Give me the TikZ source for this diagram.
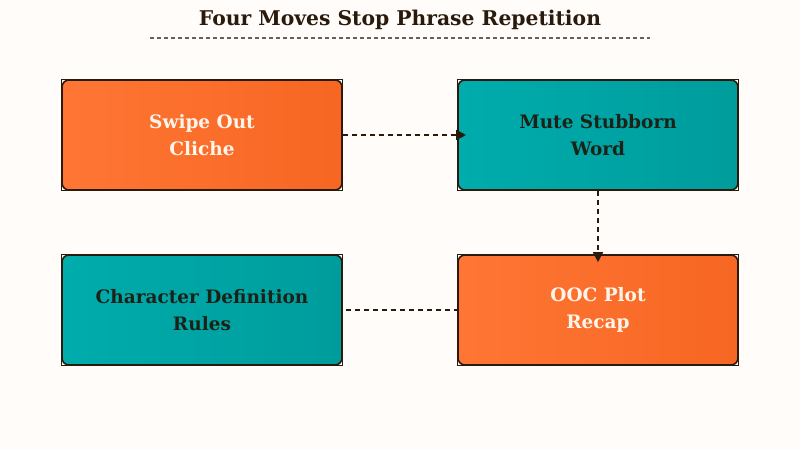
\documentclass[tikz,border=0pt]{standalone}
\usepackage{fontspec}
\setmainfont{DejaVu Serif}
\usetikzlibrary{arrows.meta}
\definecolor{bg}{HTML}{FFFCFA}
\definecolor{dark}{HTML}{2A1A0C}
\definecolor{orA}{HTML}{FF7634}
\definecolor{orB}{HTML}{F76623}
\definecolor{teA}{HTML}{00ACAC}
\definecolor{teB}{HTML}{009C9C}
\definecolor{wtxt}{HTML}{FFF5EA}
\definecolor{dtxt}{HTML}{1C2218}
\tikzset{
  card/.style={minimum width=280pt, minimum height=110pt, rounded corners=7pt,
    draw=dark, line width=1.6pt, align=center, font=\fontsize{18.5}{26.5}\selectfont\bfseries,
    shading angle=135},
  orcard/.style={card, left color=orA, right color=orB, text=wtxt},
  tecard/.style={card, left color=teA, right color=teB, text=dtxt},
  frame/.style={draw=dark, line width=1.3pt},
  conn/.style={draw=dark, line width=1.6pt, dash pattern=on 5pt off 4pt},
  tip/.style={-{Triangle[length=10pt,width=10pt]}}
}
\begin{document}
\begin{tikzpicture}[x=1pt,y=-1pt]
\fill[bg] (0,0) rectangle (800,450);
\useasboundingbox (0,0) rectangle (800,450);
\node[text=dark, font=\fontsize{20.3}{27}\selectfont\bfseries] (title) at (400,20) {Four Moves Stop Phrase Repetition};
\draw[draw=dark!70, line width=1.2pt, dash pattern=on 4pt off 3pt] (150,38) coordinate (ula) -- (650,38) coordinate (ulb);
\node[orcard] (a) at (202,135) {Swipe Out\\Cliche};
\node[tecard] (b) at (598,135) {Mute Stubborn\\Word};
\node[tecard] (c) at (202,310) {Character Definition\\Rules};
\node[orcard] (d) at (598,310) {OOC Plot\\Recap};
\foreach \n in {a,b,c,d}{\draw[frame] (\n.south west) rectangle (\n.north east);}
\draw[conn, tip, shorten >=-9pt] (a.east) -- (b.west);
\draw[conn, tip, shorten >=-8pt] (b.south) -- (d.north);
\draw[conn, shorten <=3pt] (c.east) -- (d.west);
\end{tikzpicture}
\end{document}
